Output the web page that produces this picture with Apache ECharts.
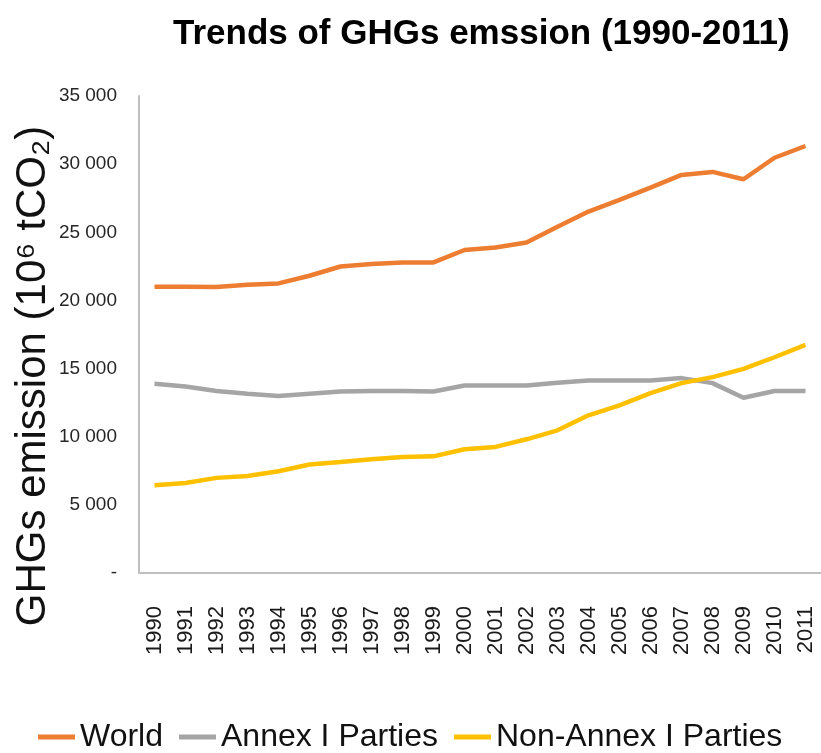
<!DOCTYPE html>
<html>
<head>
<meta charset="utf-8">
<script src="https://cdn.jsdelivr.net/npm/echarts@6/dist/echarts.min.js"></script>
<style>
html,body{margin:0;padding:0;background:#fff;}
#chart{width:821px;height:753px;}
</style>
</head>
<body>
<div id="chart"></div>
<script>
const years = ['1990','1991','1992','1993','1994','1995','1996','1997','1998','1999','2000','2001','2002','2003','2004','2005','2006','2007','2008','2009','2010','2011'];
const world = [21010,21000,20990,21150,21250,21810,22490,22670,22790,22790,23700,23880,24250,25400,26520,27380,28280,29210,29430,28890,30470,31330];
const annexI = [13890,13690,13350,13150,12980,13150,13320,13350,13350,13320,13760,13760,13760,13960,14130,14130,14130,14300,13930,12860,13350,13350];
const nonAnnexI = [6440,6610,6980,7120,7470,7960,8150,8350,8520,8560,9080,9250,9810,10470,11570,12300,13200,13930,14370,14980,15830,16740];
const seriesNames = ['World','Annex I Parties','Non-Annex I Parties'];
const yTicks = {min:0, max:35000, interval:5000};
const titleText = 'Trends of GHGs emssion (1990-2011)';
const yName = 'GHGs emission (10\u2076 tCO\u2082)';

const FONT = "'Liberation Sans', Arial, 'DejaVu Sans', sans-serif";
const chart = echarts.init(document.getElementById('chart'));
const colors = ['#ED7D31','#A5A5A5','#FFC000'];
function fmt(v){
  if (v === 0) return '-';
  return String(v).replace(/\B(?=(\d{3})+(?!\d))/g,' ');
}
chart.setOption({
  animation:false,
  backgroundColor:'#ffffff',
  color:colors,
  title:{
    text:titleText,
    left:168, top:12,
    textStyle:{fontFamily:FONT, fontWeight:'bold', fontSize:35, color:'#000'}
  },
  legend:{
    data:seriesNames,
    left:33, top:716,
    icon:'rect', itemWidth:37, itemHeight:5, itemGap:16,
    textStyle:{fontFamily:FONT, fontSize:32, color:'#111'}
  },
  grid:{left:139, top:96, bottom:180, width:685, containLabel:false},
  xAxis:{
    type:'category', data:years, boundaryGap:true,
    axisLine:{lineStyle:{color:'#BFBFBF', width:2}},
    axisTick:{show:false},
    axisLabel:{rotate:90, margin:33, fontFamily:FONT, fontSize:22, color:'#1a1a1a', interval:0}
  },
  yAxis:{
    type:'value', min:yTicks.min, max:yTicks.max, interval:yTicks.interval,
    axisLine:{show:true, lineStyle:{color:'#BFBFBF', width:2}},
    axisTick:{show:false},
    splitLine:{show:false},
    axisLabel:{formatter:fmt, margin:22, fontFamily:FONT, fontSize:19, color:'#262626'}
  },
  graphic:[{
    type:'text', x:33, y:376, rotation:Math.PI/2,
    style:{text:yName, font:"42px 'Liberation Sans', Arial, sans-serif", fill:'#111', textAlign:'center', textVerticalAlign:'middle'}
  }],
  series:[
    {name:seriesNames[0], type:'line', data:world, showSymbol:false, lineStyle:{width:4.5, color:colors[0]}},
    {name:seriesNames[1], type:'line', data:annexI, showSymbol:false, lineStyle:{width:4.5, color:colors[1]}},
    {name:seriesNames[2], type:'line', data:nonAnnexI, showSymbol:false, lineStyle:{width:4.5, color:colors[2]}}
  ]
});
</script>
</body>
</html>
